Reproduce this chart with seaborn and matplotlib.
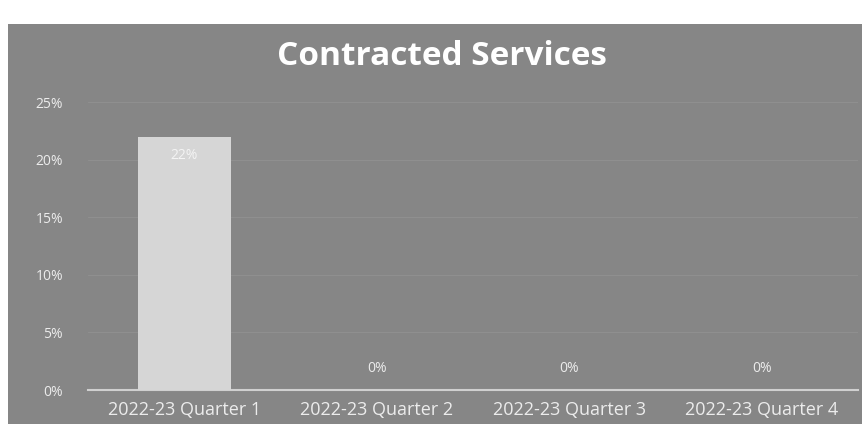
import matplotlib
matplotlib.use("Agg")
import matplotlib.pyplot as plt
import seaborn as sns
import pandas as pd
from matplotlib.patches import Rectangle
from matplotlib.ticker import PercentFormatter

quarters = ["2022-23 Quarter 1", "2022-23 Quarter 2", "2022-23 Quarter 3", "2022-23 Quarter 4"]
shares = [0.22, 0.0, 0.0, 0.0]
y_ticks = [0.0, 0.05, 0.10, 0.15, 0.20, 0.25]

df = pd.DataFrame({"quarter": quarters, "share": shares})

sns.set_theme(style="white")
plt.rcParams["font.family"] = ["Open Sans", "DejaVu Sans"]

panel = "#868686"
bar_col = "#d6d6d6"
text_col = "#ececec"

fig = plt.figure(figsize=(8.67, 4.33), dpi=100)
fig.patch.set_facecolor("white")
fig.patches.append(Rectangle((0.009, 0.02), 0.985, 0.925, transform=fig.transFigure,
                             facecolor=panel, edgecolor="none", zorder=-5))

ax = fig.add_axes([0.1015, 0.0993, 0.8885, 0.665])
ax.set_facecolor("none")
ax.set_zorder(2)
sns.barplot(data=df, x="quarter", y="share", color=bar_col, width=0.48,
            saturation=1, linewidth=0, ax=ax, zorder=3)
ax.set_ylim(0, 0.25)
ax.set_yticks(y_ticks)
ax.yaxis.set_major_formatter(PercentFormatter(1.0, decimals=0))
ax.grid(axis="y", color="#8f8f8f", linewidth=0.8, zorder=0)
for s in ["top", "right", "left"]:
    ax.spines[s].set_visible(False)
ax.spines["bottom"].set_color("#d0d0d0")
ax.spines["bottom"].set_linewidth(1.5)
ax.set_xlabel("")
ax.set_ylabel("")
ax.tick_params(axis="both", length=0, colors=text_col)
ax.tick_params(axis="x", labelsize=13, pad=8)
ax.tick_params(axis="y", labelsize=10, pad=18)

for i, v in enumerate(shares):
    if v > 0:
        ax.text(i, v - 0.0165, f"{v*100:.0f}%", ha="center", va="center",
                color="#f4f4f4", fontsize=10, zorder=4)
    else:
        ax.text(i, v + 0.019, f"{v*100:.0f}%", ha="center", va="center",
                color=text_col, fontsize=10, zorder=4)

fig.text(0.51, 0.87, "Contracted Services", ha="center", va="center",
         color="white", fontsize=24, fontweight="bold", zorder=3)

fig.savefig("out.png", dpi=100, facecolor=fig.get_facecolor())
